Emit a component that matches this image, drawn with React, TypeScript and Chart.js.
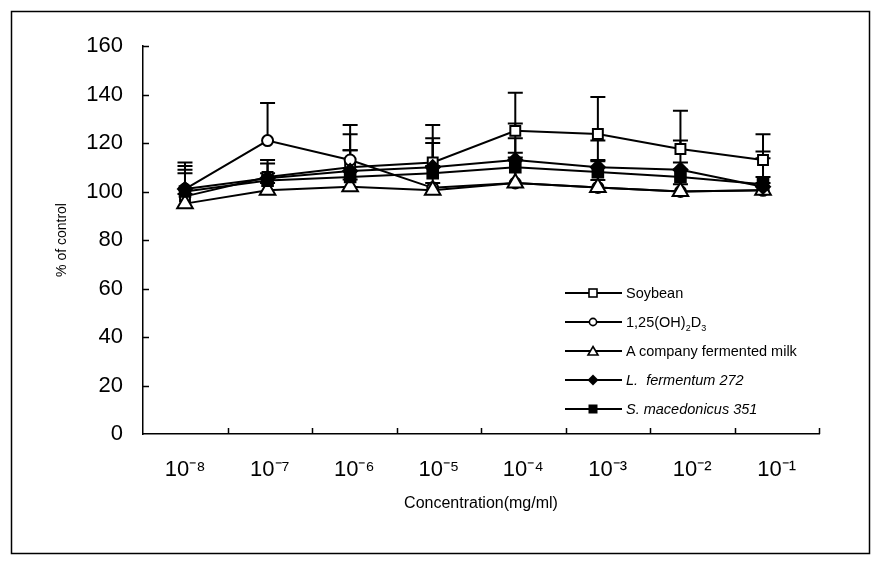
import React, { useEffect, useRef } from 'react';
import { Chart, registerables } from 'chart.js';

Chart.register(...registerables);

const categories = ['10⁻⁸', '10⁻⁷', '10⁻⁶', '10⁻⁵', '10⁻⁴', '10⁻³', '10⁻²', '10⁻¹'];

const soybean = [98, 106, 110, 112, 125, 123.7, 117.5, 113];
const soybeanErr = [14, 7, 17.4, 15.4, 15.7, 15.3, 15.8, 10.6];

const calcitriol = [101, 121, 113, 101.5, 103.5, 101.7, 100, 100.5];
const calcitriolErr = [9.5, 15.5, 10.6, 20.5, 24.5, 19.3, 21, 16];

const fermentedMilk = [95, 100.5, 102, 100.5, 103.5, 101.7, 100, 100.5];
const fermentedMilkErr = [4, 3, 3, 3, 10.5, 3, 3, 3];

const fermentum = [101, 105.5, 108.5, 110, 113, 110, 109, 102];
const fermentumErr = [8, 6, 8.5, 10, 9, 3, 3, 11.7];

const macedonicus = [100, 104.5, 106, 107.5, 110, 108, 106, 103];
const macedonicusErr = [7.5, 3, 11, 3, 6, 4.5, 3, 3];

const yMin = 0;
const yMax = 160;
const yStep = 20;

const FONT = "'Liberation Sans', Arial, sans-serif";

const errorSets = [soybeanErr, calcitriolErr, fermentedMilkErr, fermentumErr, macedonicusErr];

const errorBarPlugin = {
  id: 'errorBars',
  beforeDatasetsDraw(chart: any) {
    const ctx = chart.ctx;
    const y = chart.scales.y;
    chart.data.datasets.forEach((ds: any, di: number) => {
      const meta = chart.getDatasetMeta(di);
      const errs = errorSets[di];
      meta.data.forEach((pt: any, i: number) => {
        const v = ds.data[i].y;
        const top = y.getPixelForValue(v + errs[i]);
        ctx.save();
        ctx.strokeStyle = '#000';
        ctx.lineWidth = 2;
        ctx.beginPath();
        ctx.moveTo(pt.x, pt.y);
        ctx.lineTo(pt.x, top);
        ctx.moveTo(pt.x - 7.5, top);
        ctx.lineTo(pt.x + 7.5, top);
        ctx.stroke();
        ctx.restore();
      });
    });
  },
};

const decorPlugin = {
  id: 'decor',
  afterDraw(chart: any) {
    const ctx = chart.ctx;
    const { left, bottom } = chart.chartArea;
    const y = chart.scales.y;
    const x = chart.scales.x;
    ctx.save();
    ctx.strokeStyle = '#000';
    ctx.lineWidth = 1.5;
    ctx.beginPath();
    for (let v = yMin + yStep; v <= yMax; v += yStep) {
      const py = Math.round(y.getPixelForValue(v)) + 0.5;
      ctx.moveTo(left, py);
      ctx.lineTo(left + 6, py);
    }
    const p0 = x.getPixelForValue(0);
    const step = x.getPixelForValue(1) - p0;
    for (let k = 1; k <= categories.length; k++) {
      const px = Math.round(p0 - step / 2 + k * step) + 0.5;
      ctx.moveTo(px, bottom);
      ctx.lineTo(px, bottom - 6);
    }
    ctx.stroke();
    ctx.lineWidth = 1.5;
    ctx.strokeRect(11.5, 11.5, 858, 542);
    ctx.restore();
  },
};

function toPoints(values: number[]) {
  return values.map((v, i) => ({ x: i, y: v }));
}

function LegendMarker({ kind, cx, cy }: { kind: string; cx: number; cy: number }) {
  if (kind === 'square')
    return <rect x={cx - 4} y={cy - 4} width={8} height={8} fill="#fff" stroke="#000" strokeWidth={1.6} />;
  if (kind === 'circle') return <circle cx={cx} cy={cy} r={3.6} fill="#fff" stroke="#000" strokeWidth={1.6} />;
  if (kind === 'triangle')
    return (
      <polygon
        points={`${cx},${cy - 4.5} ${cx + 5},${cy + 4} ${cx - 5},${cy + 4}`}
        fill="#fff"
        stroke="#000"
        strokeWidth={1.6}
      />
    );
  if (kind === 'diamond')
    return <polygon points={`${cx},${cy - 5.5} ${cx + 5.5},${cy} ${cx},${cy + 5.5} ${cx - 5.5},${cy}`} fill="#000" />;
  return <rect x={cx - 4.5} y={cy - 4.5} width={9} height={9} fill="#000" />;
}

const legendRows = [
  { kind: 'square', text: <span>Soybean</span> },
  {
    kind: 'circle',
    text: (
      <span>
        1,25(OH)<span style={{ fontSize: 9, position: 'relative', top: 4 }}>2</span>D
        <span style={{ fontSize: 9, position: 'relative', top: 4 }}>3</span>
      </span>
    ),
  },
  { kind: 'triangle', text: <span>A company fermented milk</span> },
  { kind: 'diamond', text: <i style={{ whiteSpace: 'pre' }}>{'L.  fermentum 272'}</i> },
  { kind: 'fsquare', text: <i style={{ whiteSpace: 'pre' }}>{'S. macedonicus 351'}</i> },
];
const legendTop = 293;
const legendGap = 29;

export default function App() {
  const canvasRef = useRef<HTMLCanvasElement | null>(null);

  useEffect(() => {
    if (!canvasRef.current) return;
    const common = {
      borderColor: '#000',
      borderWidth: 2,
      tension: 0,
      pointBorderColor: '#000',
      pointBorderWidth: 2,
      xAxisID: 'xd',
      yAxisID: 'y',
    };
    const chart = new Chart(canvasRef.current, {
      type: 'line',
      data: {
        labels: categories,
        datasets: [
          {
            ...common,
            label: 'Soybean',
            data: toPoints(soybean),
            pointStyle: 'rect',
            pointRadius: 7,
            pointBackgroundColor: '#fff',
            order: 5,
          },
          {
            ...common,
            label: '1,25(OH)2D3',
            data: toPoints(calcitriol),
            pointStyle: 'circle',
            pointRadius: 5.5,
            pointBackgroundColor: '#fff',
            order: 4,
          },
          {
            ...common,
            label: 'A company fermented milk',
            data: toPoints(fermentedMilk),
            pointStyle: 'triangle',
            pointRadius: 9,
            pointBackgroundColor: '#fff',
            order: 3,
          },
          {
            ...common,
            label: 'L. fermentum 272',
            data: toPoints(fermentum),
            pointStyle: 'rectRot',
            pointRadius: 7,
            pointBackgroundColor: '#000',
            order: 2,
          },
          {
            ...common,
            label: 'S. macedonicus 351',
            data: toPoints(macedonicus),
            pointStyle: 'rect',
            pointRadius: 7.5,
            pointBackgroundColor: '#000',
            order: 1,
          },
        ] as any,
      },
      options: {
        animation: false,
        responsive: false,
        events: [],
        layout: { padding: { top: 46, right: 65, left: 0, bottom: 0 } },
        plugins: { legend: { display: false }, tooltip: { enabled: false } },
        scales: {
          x: {
            type: 'category',
            offset: true,
            grid: { display: false, drawTicks: false, offset: true },
            border: { display: true, color: '#000', width: 1.5 },
            ticks: {
              color: '#000',
              font: { family: FONT, size: 22 },
              padding: 23,
              autoSkip: false,
              maxRotation: 0,
              minRotation: 0,
            },
            title: {
              display: true,
              text: 'Concentration(mg/ml)',
              color: '#000',
              font: { family: FONT, size: 16 },
              padding: { top: 0, bottom: 54 },
            },
            afterFit: (s: any) => {
              s.height = 133;
            },
          },
          xd: {
            type: 'linear',
            display: false,
            min: -0.5085,
            max: 7.678,
          },
          y: {
            type: 'linear',
            min: yMin,
            max: yMax,
            grid: { display: false, drawTicks: false },
            border: { display: true, color: '#000', width: 1.5 },
            ticks: {
              stepSize: yStep,
              color: '#000',
              font: { family: FONT, size: 22 },
              padding: 20,
            },
            title: {
              display: true,
              text: '% of control',
              color: '#000',
              font: { family: FONT, size: 14 },
              padding: { top: 54, bottom: 0 },
            },
            afterFit: (s: any) => {
              s.width = 143;
            },
          },
        },
      } as any,
      plugins: [errorBarPlugin, decorPlugin],
    });
    return () => chart.destroy();
  }, []);

  return (
    <div style={{ position: 'absolute', left: 0, top: 0, width: 884, height: 567, background: '#fff' }}>
      <canvas ref={canvasRef} width={884} height={567} style={{ display: 'block' }} />
      <svg
        style={{ position: 'absolute', left: 560, top: legendTop - 20, overflow: 'visible' }}
        width={70}
        height={150}
      >
        {legendRows.map((r, i) => {
          const cy = 20 + i * legendGap;
          return (
            <g key={i}>
              <line x1={5} y1={cy} x2={62} y2={cy} stroke="#000" strokeWidth={1.8} />
              <LegendMarker kind={r.kind} cx={33} cy={cy} />
            </g>
          );
        })}
      </svg>
      {legendRows.map((r, i) => (
        <div
          key={i}
          style={{
            position: 'absolute',
            left: 626,
            top: legendTop + i * legendGap - 9,
            height: 18,
            lineHeight: '18px',
            fontFamily: FONT,
            fontSize: 14.5,
            color: '#000',
            whiteSpace: 'nowrap',
          }}
        >
          {r.text}
        </div>
      ))}
    </div>
  );
}
